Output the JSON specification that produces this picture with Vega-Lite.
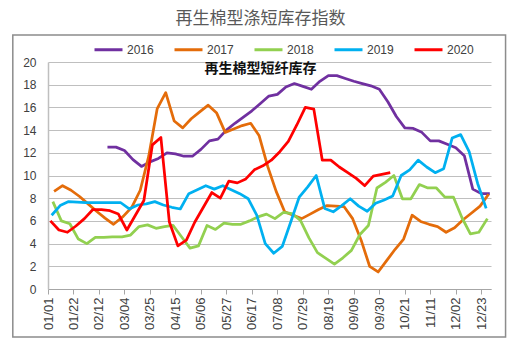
{
  "$schema": "https://vega.github.io/schema/vega-lite/v6.json",
  "width": 443,
  "height": 227,
  "autosize": {"type": "none"},
  "padding": {"left": 48, "top": 62, "right": 27, "bottom": 57},
  "background": "white",
  "config": {
    "view": {"stroke": null},
    "font": "Liberation Sans",
    "axis": {"labelOverlap": false, "labelFont": "Liberation Sans", "labelColor": "#404040", "tickCount": 60},
    "axisX": {"labelOverlap": false, "labelFontSize": 13, "labelAngle": -90, "grid": false, "domainColor": "#a6a6a6", "tickColor": "#a6a6a6", "tickSize": 5, "labelPadding": 3},
    "axisY": {"labelOverlap": false, "labelFontSize": 12, "grid": true, "gridColor": "#bfbfbf", "ticks": false, "domainColor": "#bfbfbf", "domainWidth": 1.5, "labelPadding": 12, "format": "d"}
  },
  "title": {
    "text": "再生棉型涤短库存指数",
    "subtitle": "再生棉型短纤库存",
    "anchor": "middle",
    "frame": "group",
    "offset": -43,
    "dx": -9,
    "font": "Noto Sans CJK SC",
    "fontSize": 17,
    "fontWeight": "normal",
    "color": "#595959",
    "subtitleFont": "Noto Sans CJK SC",
    "subtitleFontSize": 14,
    "subtitleFontWeight": "bold",
    "subtitleColor": "#111111",
    "subtitlePadding": 34
  },
  "layer": [
    {
      "data": {"values": [
        {"s":"2016","d":"2016/02/19","v":12.5},{"s":"2016","d":"2016/02/26","v":12.5},{"s":"2016","d":"2016/03/04","v":12.2},{"s":"2016","d":"2016/03/11","v":11.4},{"s":"2016","d":"2016/03/18","v":10.8},{"s":"2016","d":"2016/03/25","v":11.2},{"s":"2016","d":"2016/04/01","v":11.5},{"s":"2016","d":"2016/04/08","v":12.0},{"s":"2016","d":"2016/04/15","v":11.9},{"s":"2016","d":"2016/04/22","v":11.7},{"s":"2016","d":"2016/04/29","v":11.7},{"s":"2016","d":"2016/05/06","v":12.3},{"s":"2016","d":"2016/05/13","v":13.05},{"s":"2016","d":"2016/05/20","v":13.2},{"s":"2016","d":"2016/05/27","v":14.0},{"s":"2016","d":"2016/06/03","v":14.6},{"s":"2016","d":"2016/06/10","v":15.15},{"s":"2016","d":"2016/06/17","v":15.7},{"s":"2016","d":"2016/06/24","v":16.35},{"s":"2016","d":"2016/07/01","v":17.0},{"s":"2016","d":"2016/07/08","v":17.15},{"s":"2016","d":"2016/07/15","v":17.8},{"s":"2016","d":"2016/07/22","v":18.1},{"s":"2016","d":"2016/07/29","v":17.85},{"s":"2016","d":"2016/08/05","v":17.6},{"s":"2016","d":"2016/08/12","v":18.3},{"s":"2016","d":"2016/08/19","v":18.8},{"s":"2016","d":"2016/08/26","v":18.8},{"s":"2016","d":"2016/09/02","v":18.55},{"s":"2016","d":"2016/09/09","v":18.3},{"s":"2016","d":"2016/09/16","v":18.1},{"s":"2016","d":"2016/09/23","v":17.9},{"s":"2016","d":"2016/09/30","v":17.6},{"s":"2016","d":"2016/10/07","v":16.5},{"s":"2016","d":"2016/10/14","v":15.2},{"s":"2016","d":"2016/10/21","v":14.2},{"s":"2016","d":"2016/10/28","v":14.15},{"s":"2016","d":"2016/11/04","v":13.8},{"s":"2016","d":"2016/11/11","v":13.05},{"s":"2016","d":"2016/11/18","v":13.05},{"s":"2016","d":"2016/11/25","v":12.75},{"s":"2016","d":"2016/12/02","v":12.45},{"s":"2016","d":"2016/12/09","v":11.75},{"s":"2016","d":"2016/12/16","v":8.8},{"s":"2016","d":"2016/12/23","v":8.4},{"s":"2016","d":"2016/12/30","v":8.4},
        {"s":"2017","d":"2017/01/06","v":8.6},{"s":"2017","d":"2017/01/13","v":9.1},{"s":"2017","d":"2017/01/20","v":8.7},{"s":"2017","d":"2017/01/27","v":8.15},{"s":"2017","d":"2017/02/03","v":7.5},{"s":"2017","d":"2017/02/10","v":6.85},{"s":"2017","d":"2017/02/17","v":6.25},{"s":"2017","d":"2017/02/24","v":5.7},{"s":"2017","d":"2017/03/03","v":6.4},{"s":"2017","d":"2017/03/10","v":7.2},{"s":"2017","d":"2017/03/17","v":8.7},{"s":"2017","d":"2017/03/24","v":11.7},{"s":"2017","d":"2017/03/31","v":15.9},{"s":"2017","d":"2017/04/07","v":17.3},{"s":"2017","d":"2017/04/14","v":14.8},{"s":"2017","d":"2017/04/21","v":14.2},{"s":"2017","d":"2017/04/28","v":15.0},{"s":"2017","d":"2017/05/05","v":15.6},{"s":"2017","d":"2017/05/12","v":16.2},{"s":"2017","d":"2017/05/19","v":15.5},{"s":"2017","d":"2017/05/26","v":13.8},{"s":"2017","d":"2017/06/02","v":14.1},{"s":"2017","d":"2017/06/09","v":14.4},{"s":"2017","d":"2017/06/16","v":14.6},{"s":"2017","d":"2017/06/23","v":13.5},{"s":"2017","d":"2017/06/30","v":10.8},{"s":"2017","d":"2017/07/07","v":8.6},{"s":"2017","d":"2017/07/14","v":6.8},{"s":"2017","d":"2017/07/21","v":6.5},{"s":"2017","d":"2017/07/28","v":6.2},{"s":"2017","d":"2017/08/04","v":6.6},{"s":"2017","d":"2017/08/11","v":7.0},{"s":"2017","d":"2017/08/18","v":7.35},{"s":"2017","d":"2017/08/25","v":7.3},{"s":"2017","d":"2017/09/01","v":7.25},{"s":"2017","d":"2017/09/08","v":6.2},{"s":"2017","d":"2017/09/15","v":4.3},{"s":"2017","d":"2017/09/22","v":2.0},{"s":"2017","d":"2017/09/29","v":1.5},{"s":"2017","d":"2017/10/06","v":2.5},{"s":"2017","d":"2017/10/13","v":3.5},{"s":"2017","d":"2017/10/20","v":4.4},{"s":"2017","d":"2017/10/27","v":6.5},{"s":"2017","d":"2017/11/03","v":5.95},{"s":"2017","d":"2017/11/10","v":5.7},{"s":"2017","d":"2017/11/17","v":5.5},{"s":"2017","d":"2017/11/24","v":5.0},{"s":"2017","d":"2017/12/01","v":5.4},{"s":"2017","d":"2017/12/08","v":6.1},{"s":"2017","d":"2017/12/15","v":6.7},{"s":"2017","d":"2017/12/22","v":7.3},{"s":"2017","d":"2017/12/29","v":8.35},
        {"s":"2018","d":"2018/01/05","v":7.7},{"s":"2018","d":"2018/01/12","v":6.0},{"s":"2018","d":"2018/01/19","v":5.75},{"s":"2018","d":"2018/01/26","v":4.4},{"s":"2018","d":"2018/02/02","v":4.0},{"s":"2018","d":"2018/02/09","v":4.55},{"s":"2018","d":"2018/02/16","v":4.55},{"s":"2018","d":"2018/02/23","v":4.6},{"s":"2018","d":"2018/03/02","v":4.6},{"s":"2018","d":"2018/03/09","v":4.75},{"s":"2018","d":"2018/03/16","v":5.5},{"s":"2018","d":"2018/03/23","v":5.65},{"s":"2018","d":"2018/03/30","v":5.35},{"s":"2018","d":"2018/04/06","v":5.5},{"s":"2018","d":"2018/04/13","v":5.6},{"s":"2018","d":"2018/04/20","v":4.6},{"s":"2018","d":"2018/04/27","v":3.6},{"s":"2018","d":"2018/05/04","v":3.8},{"s":"2018","d":"2018/05/11","v":5.6},{"s":"2018","d":"2018/05/18","v":5.25},{"s":"2018","d":"2018/05/25","v":5.8},{"s":"2018","d":"2018/06/01","v":5.7},{"s":"2018","d":"2018/06/08","v":5.7},{"s":"2018","d":"2018/06/15","v":6.0},{"s":"2018","d":"2018/06/22","v":6.35},{"s":"2018","d":"2018/06/29","v":6.6},{"s":"2018","d":"2018/07/06","v":6.2},{"s":"2018","d":"2018/07/13","v":6.75},{"s":"2018","d":"2018/07/20","v":6.65},{"s":"2018","d":"2018/07/27","v":6.05},{"s":"2018","d":"2018/08/03","v":4.5},{"s":"2018","d":"2018/08/10","v":3.2},{"s":"2018","d":"2018/08/17","v":2.7},{"s":"2018","d":"2018/08/24","v":2.2},{"s":"2018","d":"2018/08/31","v":2.75},{"s":"2018","d":"2018/09/07","v":3.4},{"s":"2018","d":"2018/09/14","v":4.8},{"s":"2018","d":"2018/09/21","v":5.6},{"s":"2018","d":"2018/09/28","v":8.9},{"s":"2018","d":"2018/10/05","v":9.4},{"s":"2018","d":"2018/10/12","v":10.0},{"s":"2018","d":"2018/10/19","v":7.95},{"s":"2018","d":"2018/10/26","v":7.95},{"s":"2018","d":"2018/11/02","v":9.2},{"s":"2018","d":"2018/11/09","v":8.9},{"s":"2018","d":"2018/11/16","v":8.9},{"s":"2018","d":"2018/11/23","v":8.1},{"s":"2018","d":"2018/11/30","v":8.1},{"s":"2018","d":"2018/12/07","v":6.3},{"s":"2018","d":"2018/12/14","v":4.85},{"s":"2018","d":"2018/12/21","v":5.0},{"s":"2018","d":"2018/12/28","v":6.2},
        {"s":"2019","d":"2019/01/04","v":6.5},{"s":"2019","d":"2019/01/11","v":7.35},{"s":"2019","d":"2019/01/18","v":7.7},{"s":"2019","d":"2019/01/25","v":7.65},{"s":"2019","d":"2019/02/01","v":7.6},{"s":"2019","d":"2019/02/08","v":7.6},{"s":"2019","d":"2019/02/15","v":7.6},{"s":"2019","d":"2019/02/22","v":7.6},{"s":"2019","d":"2019/03/01","v":7.6},{"s":"2019","d":"2019/03/08","v":7.05},{"s":"2019","d":"2019/03/15","v":7.4},{"s":"2019","d":"2019/03/22","v":7.5},{"s":"2019","d":"2019/03/29","v":7.7},{"s":"2019","d":"2019/04/05","v":7.4},{"s":"2019","d":"2019/04/12","v":7.2},{"s":"2019","d":"2019/04/19","v":7.05},{"s":"2019","d":"2019/04/26","v":8.4},{"s":"2019","d":"2019/05/03","v":8.75},{"s":"2019","d":"2019/05/10","v":9.1},{"s":"2019","d":"2019/05/17","v":8.8},{"s":"2019","d":"2019/05/24","v":9.1},{"s":"2019","d":"2019/05/31","v":8.75},{"s":"2019","d":"2019/06/07","v":8.4},{"s":"2019","d":"2019/06/14","v":7.95},{"s":"2019","d":"2019/06/21","v":6.5},{"s":"2019","d":"2019/06/28","v":4.0},{"s":"2019","d":"2019/07/05","v":3.15},{"s":"2019","d":"2019/07/12","v":3.75},{"s":"2019","d":"2019/07/19","v":5.9},{"s":"2019","d":"2019/07/26","v":8.1},{"s":"2019","d":"2019/08/02","v":9.0},{"s":"2019","d":"2019/08/09","v":10.0},{"s":"2019","d":"2019/08/16","v":7.1},{"s":"2019","d":"2019/08/23","v":6.8},{"s":"2019","d":"2019/08/30","v":7.35},{"s":"2019","d":"2019/09/06","v":7.95},{"s":"2019","d":"2019/09/13","v":7.3},{"s":"2019","d":"2019/09/20","v":6.85},{"s":"2019","d":"2019/09/27","v":7.55},{"s":"2019","d":"2019/10/04","v":7.85},{"s":"2019","d":"2019/10/11","v":8.2},{"s":"2019","d":"2019/10/18","v":10.0},{"s":"2019","d":"2019/10/25","v":10.5},{"s":"2019","d":"2019/11/01","v":11.35},{"s":"2019","d":"2019/11/08","v":10.75},{"s":"2019","d":"2019/11/15","v":10.25},{"s":"2019","d":"2019/11/22","v":10.6},{"s":"2019","d":"2019/11/29","v":13.3},{"s":"2019","d":"2019/12/06","v":13.6},{"s":"2019","d":"2019/12/13","v":12.1},{"s":"2019","d":"2019/12/20","v":9.3},{"s":"2019","d":"2019/12/27","v":7.1},
        {"s":"2020","d":"2020/01/03","v":6.0},{"s":"2020","d":"2020/01/10","v":5.2},{"s":"2020","d":"2020/01/17","v":5.0},{"s":"2020","d":"2020/01/24","v":5.55},{"s":"2020","d":"2020/01/31","v":6.2},{"s":"2020","d":"2020/02/07","v":7.0},{"s":"2020","d":"2020/02/14","v":7.0},{"s":"2020","d":"2020/02/21","v":6.9},{"s":"2020","d":"2020/02/28","v":6.6},{"s":"2020","d":"2020/03/06","v":5.2},{"s":"2020","d":"2020/03/13","v":6.5},{"s":"2020","d":"2020/03/20","v":7.8},{"s":"2020","d":"2020/03/27","v":12.7},{"s":"2020","d":"2020/04/03","v":13.35},{"s":"2020","d":"2020/04/10","v":5.9},{"s":"2020","d":"2020/04/17","v":3.8},{"s":"2020","d":"2020/04/24","v":4.3},{"s":"2020","d":"2020/05/01","v":5.9},{"s":"2020","d":"2020/05/08","v":7.2},{"s":"2020","d":"2020/05/15","v":8.5},{"s":"2020","d":"2020/05/22","v":8.0},{"s":"2020","d":"2020/05/29","v":9.5},{"s":"2020","d":"2020/06/05","v":9.35},{"s":"2020","d":"2020/06/12","v":9.7},{"s":"2020","d":"2020/06/19","v":10.5},{"s":"2020","d":"2020/06/26","v":10.85},{"s":"2020","d":"2020/07/03","v":11.35},{"s":"2020","d":"2020/07/10","v":12.1},{"s":"2020","d":"2020/07/17","v":13.0},{"s":"2020","d":"2020/07/24","v":14.45},{"s":"2020","d":"2020/07/31","v":16.0},{"s":"2020","d":"2020/08/07","v":15.85},{"s":"2020","d":"2020/08/14","v":11.35},{"s":"2020","d":"2020/08/21","v":11.35},{"s":"2020","d":"2020/08/28","v":10.75},{"s":"2020","d":"2020/09/04","v":10.25},{"s":"2020","d":"2020/09/11","v":9.75},{"s":"2020","d":"2020/09/18","v":9.1},{"s":"2020","d":"2020/09/25","v":9.95},{"s":"2020","d":"2020/10/02","v":10.1},{"s":"2020","d":"2020/10/09","v":10.25}
      ]},
      "mark": {"type": "line", "strokeWidth": 2.75, "strokeJoin": "round"},
      "encoding": {
        "x": {
          "field": "d", "timeUnit": "monthdate", "type": "temporal", "title": null,
          "scale": {"domain": [{"year": 2012, "month": 1, "date": 1}, {"year": 2012, "month": 12, "date": 31}]},
          "axis": {
            "values": [
              {"year":2012,"month":1,"date":1},{"year":2012,"month":1,"date":22},{"year":2012,"month":2,"date":12},{"year":2012,"month":3,"date":4},{"year":2012,"month":3,"date":25},{"year":2012,"month":4,"date":15},{"year":2012,"month":5,"date":6},{"year":2012,"month":5,"date":27},{"year":2012,"month":6,"date":17},{"year":2012,"month":7,"date":8},{"year":2012,"month":7,"date":29},{"year":2012,"month":8,"date":19},{"year":2012,"month":9,"date":9},{"year":2012,"month":9,"date":30},{"year":2012,"month":10,"date":21},{"year":2012,"month":11,"date":11},{"year":2012,"month":12,"date":2},{"year":2012,"month":12,"date":23}
            ],
            "format": "%m/%d",
            "tickCount": 60,
            "labelOverlap": false
          }
        },
        "y": {
          "field": "v", "type": "quantitative", "title": null,
          "scale": {"domain": [0, 20]},
          "axis": {
            "values": [0, 2, 4, 6, 8, 10, 12, 14, 16, 18, 20],
            "tickCount": 60,
            "format": "d",
            "labelOverlap": false
          }
        },
        "color": {
          "field": "s", "type": "nominal",
          "scale": {"domain": ["2016", "2017", "2018", "2019", "2020"], "range": ["#7030A0", "#E46C0A", "#92D050", "#00B0F0", "#FF0000"]},
          "legend": {
            "title": null, "orient": "none", "legendX": 45, "legendY": -28, "direction": "horizontal",
            "symbolType": "stroke", "symbolSize": 784, "symbolStrokeWidth": 3,
            "labelFontSize": 12, "labelColor": "#404040", "labelFont": "Liberation Sans",
            "columnPadding": 14, "labelOffset": 3, "padding": 0
          }
        }
      }
    },
    {
      "data": {"values": [{}]},
      "mark": {"type": "rect", "fill": "transparent", "stroke": "#8c8c8c", "strokeWidth": 1.5},
      "encoding": {
        "x": {"datum": {"year": 2011, "month": 12, "date": 3}, "type": "temporal", "axis": {"labelOverlap": false, "tickCount": 60}},
        "x2": {"datum": {"year": 2013, "month": 1, "date": 12}},
        "y": {"datum": 22.38, "type": "quantitative", "axis": {"labelOverlap": false, "tickCount": 60, "format": "d"}},
        "y2": {"datum": -4.23}
      }
    }
  ]
}
